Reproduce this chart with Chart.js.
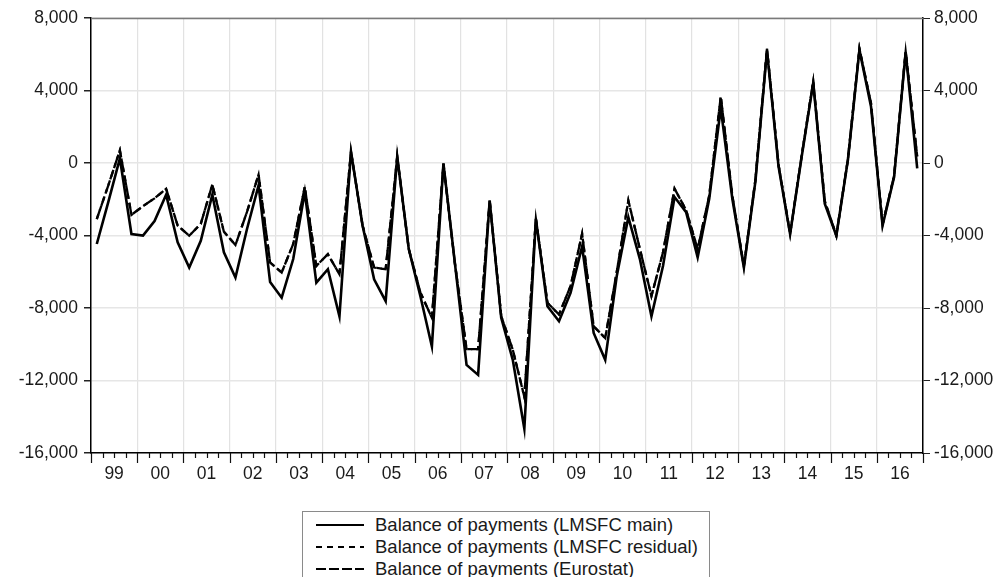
<!DOCTYPE html>
<html>
<head>
<meta charset="utf-8">
<script src="https://cdn.jsdelivr.net/npm/chart.js@4.4.1/dist/chart.umd.min.js"></script>
<style>
  html, body { margin: 0; padding: 0; background: #fff; }
  #wrap { position: relative; width: 1007px; height: 577px; overflow: hidden; font-family: "Liberation Sans", Arial, sans-serif; }
  #chartBox { position: absolute; left: 0; top: 0; width: 1007px; height: 500px; }
  #legend { position: absolute; left: 302px; top: 511px; width: 408px; height: 80px; border: 1px solid #8a8a8a; box-sizing: border-box; background: #fff; }
  .row { position: absolute; left: 0; height: 22px; display: flex; align-items: center; }
  .row svg { margin-left: 13px; width: 48px; height: 10px; }
  .row span { margin-left: 11px; font-size: 18.5px; color: #1a1a1a; white-space: nowrap; }
</style>
</head>
<body>
<div id="wrap">
  <div id="chartBox"><canvas id="bop"></canvas></div>
  <div id="legend"></div>
</div>
<script>
// Year labels, one per year of quarterly data (1999Q1 - 2016Q4)
const years = ['99','00','01','02','03','04','05','06','07','08','09','10','11','12','13','14','15','16'];

// Balance of payments, quarterly values
const mainBop = [
  -4470, -2150,   250, -3920,   -4000, -3200, -1750, -4380,
  -5770, -4290, -1750, -4930,   -6320, -3640, -1230, -6560,
  -7430, -5300, -1600, -6600,   -5860, -8460,   620, -3450,
  -6420, -7620,   340, -4750,   -7340,-10120,   -30, -5580,
 -11140,-11690, -2070, -8540,  -10860,-14660, -3080, -7900,
  -8730, -7160, -4600, -9380,  -10860, -6230, -2990, -5300,
  -8460, -5680, -1880, -2710,   -5210, -1970,  3030, -1970,
  -5770, -1000,  6200,  -200,   -3920,   340,  4420, -2250,
  -4010,   160,  6230,  3120,   -3450,  -770,  6120,  -300
];
const residualBop = [
  -3100, -1230,   700, -2860,   -2380, -1950, -1420, -3450,
  -4010, -3360, -1190, -3790,   -4530, -2700,  -640, -5490,
  -6040, -4470, -1320, -5680,   -5030, -6140,   620, -3450,
  -5770, -5860,   340, -4750,   -7140, -8540,   -30, -5580,
 -10270,-10270, -2070, -8450,  -10300,-12900, -3080, -7710,
  -8360, -6790, -3900, -9010,   -9660, -6000, -2070, -4750,
  -7340, -4930, -1420, -2600,   -4750, -1800,  3680, -1800,
  -5700,  -900,  6300,  -100,   -3900,   400,  4500, -2100,
  -4000,   200,  6300,  3300,   -3400,  -700,  6150,   360
];
const eurostatBop = [
  -3100, -1230,   700, -2860,   -2380, -1950, -1420, -3450,
  -4010, -3360, -1190, -3790,   -4530, -2700,  -640, -5490,
  -6040, -4470, -1320, -5680,   -5030, -6140,   620, -3450,
  -5770, -5860,   340, -4750,   -7140, -8540,   -30, -5580,
 -10270,-10270, -2070, -8450,  -10300,-12900, -3080, -7710,
  -8360, -6790, -3900, -9010,   -9660, -6000, -2070, -4750,
  -7340, -4930, -1420, -2600,   -4750, -1800,  3680, -1800,
  -5700,  -900,  6300,  -100,   -3900,   400,  4500, -2100,
  -4000,   200,  6300,  3300,   -3400,  -700,  6150,   360
];
const seriesNames = [
  'Balance of payments (LMSFC main)',
  'Balance of payments (LMSFC residual)',
  'Balance of payments (Eurostat)'
];
const yTicks = [-16000, -12000, -8000, -4000, 0, 4000, 8000];

// each quarter sits in the middle of its slot on the time axis
const toPoints = arr => arr.map((v, i) => ({ x: i + 0.5, y: v }));
const nQuarters = years.length * 4;

const styles = [
  { borderDash: [], borderWidth: 2.6, legendDash: 'none' },
  { borderDash: [5, 4], borderWidth: 2.3, legendDash: '6,5' },
  { borderDash: [10, 4], borderWidth: 2.3, legendDash: '10,3' }
];
const values = [mainBop, residualBop, eurostatBop];

const fmt = v => v.toLocaleString('en-US');
const FONT = { family: '"Liberation Sans", Arial, sans-serif', size: 17.5 };

// quarter tick marks hanging below the time axis (long ones at year boundaries)
const quarterTicks = {
  id: 'quarterTicks',
  afterDraw(chart) {
    const xs = chart.scales.x, ctx = chart.ctx, base = chart.chartArea.bottom;
    ctx.save();
    ctx.strokeStyle = '#111';
    ctx.lineWidth = 1.2;
    for (let q = 0; q <= nQuarters; q++) {
      const px = Math.round(xs.getPixelForValue(q)) + 0.5;
      ctx.beginPath();
      ctx.moveTo(px, base);
      ctx.lineTo(px, base + (q % 4 === 0 ? 10 : 5));
      ctx.stroke();
    }
    // darker frame line along the top of the plot
    ctx.strokeStyle = '#7a7a7a';
    ctx.lineWidth = 1.5;
    ctx.beginPath();
    ctx.moveTo(chart.chartArea.left, chart.chartArea.top + 0.5);
    ctx.lineTo(chart.chartArea.right, chart.chartArea.top + 0.5);
    ctx.stroke();
    ctx.restore();
  }
};

new Chart(document.getElementById('bop'), {
  type: 'line',
  data: {
    datasets: values.map((arr, k) => ({
      label: seriesNames[k],
      data: toPoints(arr),
      borderColor: '#000',
      borderWidth: styles[k].borderWidth,
      borderDash: styles[k].borderDash,
      pointRadius: 0,
      tension: 0,
      fill: false,
      order: k === 0 ? 0 : 1
    }))
  },
  options: {
    responsive: true,
    maintainAspectRatio: false,
    animation: false,
    layout: { padding: { top: 18, left: 0, right: 0, bottom: 0 } },
    plugins: { legend: { display: false }, tooltip: { enabled: false } },
    scales: {
      x: {
        type: 'linear',
        min: 0,
        max: nQuarters,
        afterFit: s => { s.height = 47; },
        afterBuildTicks: s => { s.ticks = Array.from({ length: nQuarters + 1 }, (_, q) => ({ value: q })); },
        ticks: {
          autoSkip: false,
          maxRotation: 0,
          padding: 11,
          color: '#1a1a1a',
          font: FONT,
          callback: v => (v % 4 === 2 ? years[(v - 2) / 4] : '')
        },
        grid: {
          drawTicks: false,
          color: c => (c.tick && c.tick.value % 4 === 0 ? '#e2e2e2' : 'rgba(0,0,0,0)'),
          lineWidth: 1.2
        },
        border: { color: '#000', width: 1.5 }
      },
      y: {
        position: 'left',
        min: -16000,
        max: 8000,
        afterFit: s => { s.width = 91; },
        afterBuildTicks: s => { s.ticks = yTicks.map(v => ({ value: v })); },
        ticks: { color: '#1a1a1a', font: FONT, padding: 6, callback: fmt },
        grid: {
          color: '#e6e6e6',
          lineWidth: 1.5,
          tickColor: '#222',
          tickLength: 7
        },
        border: { color: '#000', width: 1.5 }
      },
      y2: {
        position: 'right',
        min: -16000,
        max: 8000,
        afterFit: s => { s.width = 84; },
        afterBuildTicks: s => { s.ticks = yTicks.map(v => ({ value: v })); },
        ticks: { color: '#1a1a1a', font: FONT, padding: 4, callback: fmt },
        grid: { drawOnChartArea: false, tickColor: '#222', tickLength: 7 },
        border: { color: '#000', width: 1.5 }
      }
    }
  },
  plugins: [quarterTicks]
});

// legend box below the chart
const legend = document.getElementById('legend');
seriesNames.forEach((name, k) => {
  const row = document.createElement('div');
  row.className = 'row';
  row.style.top = (2 + k * 22) + 'px';
  row.innerHTML =
    '<svg viewBox="0 0 48 10"><line x1="0" y1="5" x2="48" y2="5" stroke="#000" stroke-width="2.2" stroke-dasharray="' +
    styles[k].legendDash + '"/></svg><span>' + name + '</span>';
  legend.appendChild(row);
});
</script>
</body>
</html>
